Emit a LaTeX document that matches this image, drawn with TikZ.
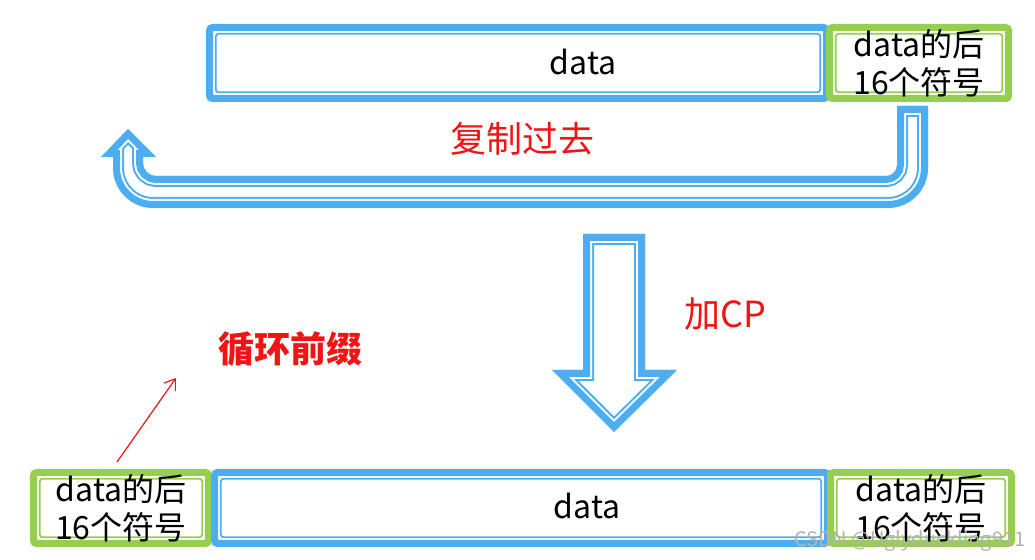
\documentclass[tikz,border=0pt]{standalone}
\usepackage{fontspec}
\setmainfont{Noto Sans CJK SC}
\usepackage{tikz}
\usetikzlibrary{arrows.meta, positioning}
\definecolor{cpblue}{RGB}{76, 174, 240}
\definecolor{cpgreen}{RGB}{150, 206, 80}
\definecolor{cpred}{RGB}{240, 20, 20}

% hollow arrow with a thick outer line and a thin inner line
\newcommand{\hollowarrow}[1]{%
  \begin{scope}
    \clip #1;
    \draw[cpblue, line width=11pt] #1;
    \draw[white, line width=9pt] #1;
    \draw[cpblue, line width=7pt] #1;
  \end{scope}}

\tikzset{
  frame/.style={draw=#1, line width=3.5pt, rounded corners=1.5pt, inner sep=0pt, outer sep=0pt,
    minimum height=35.5pt,
    path picture={\draw[#1, line width=0.9pt]
      ([shift={(3.1pt,-3.1pt)}]path picture bounding box.north west) rectangle
      ([shift={(-3.1pt,3.1pt)}]path picture bounding box.south east);}},
  boxtext/.style={font=\fontsize{16}{19}\selectfont, align=center, text=black},
  redtext/.style={font=\fontsize{18}{22}\selectfont, text=cpred}
}

\begin{document}
\begin{tikzpicture}[x=0.5pt, y=-0.5pt]
    \useasboundingbox (0,0) rectangle (1035,560);

    % Top: data with its last 16 symbols
    \node[frame=cpblue, minimum width=308.5pt] (topdata) at (518,63) {};
    \node[boxtext] (toptxt) at (583,62) {data};
    \node[frame=cpgreen, minimum width=89.5pt, boxtext] (toptail) at (919,63) {data的后\\16个符号};

    % Copy back to the front
    \hollowarrow{(897,106) -- (928,106) -- (928,168) .. controls (928,190) and (910,208) .. (888,208)
      -- (153,208) .. controls (131,208) and (113,190) .. (113,168) -- (113,157) -- (101,157)
      -- (128,129) -- (156,157) -- (143,157) -- (143,163) .. controls (143,170) and (149,176) .. (156,176)
      -- (886,176) .. controls (892,176) and (897,171) .. (897,165) -- cycle}
    \node[redtext] (copy) at (522,139) {复制过去};

    % Add CP
    \hollowarrow{(583,234) -- (645,234) -- (645,370) -- (677,370) -- (614,432) -- (552,370) -- (583,370) -- cycle}
    \node[redtext] (addcp) at (725,314) {加CP};

    % Cyclic prefix label
    \node[redtext, font=\fontsize{18}{22}\selectfont\bfseries] (prefix) at (290,349) {循环前缀};
    \coordinate (cpfrom) at (117,462);
    \coordinate (cpto) at (176,378);
    \draw[-{Straight Barb[length=5pt, width=7pt]}, cpred, line width=0.6pt] (cpfrom) -- (cpto);

    % Bottom: prefix + data + tail
    \node[frame=cpgreen, minimum width=87.5pt, boxtext] (headcp) at (121,508) {data的后\\16个符号};
    \node[frame=cpblue, minimum width=306.5pt] (botdata) at (521,508) {};
    \node[boxtext] (bottxt) at (587,506) {data};
    \node[frame=cpgreen, minimum width=90.5pt, boxtext] (tailcp) at (921,508) {data的后\\16个符号};

    \node[font=\fontsize{10}{12}\selectfont, text=black!30] (mark) at (910,541) {CSDN @Uglyduckling911};
\end{tikzpicture}
\end{document}
